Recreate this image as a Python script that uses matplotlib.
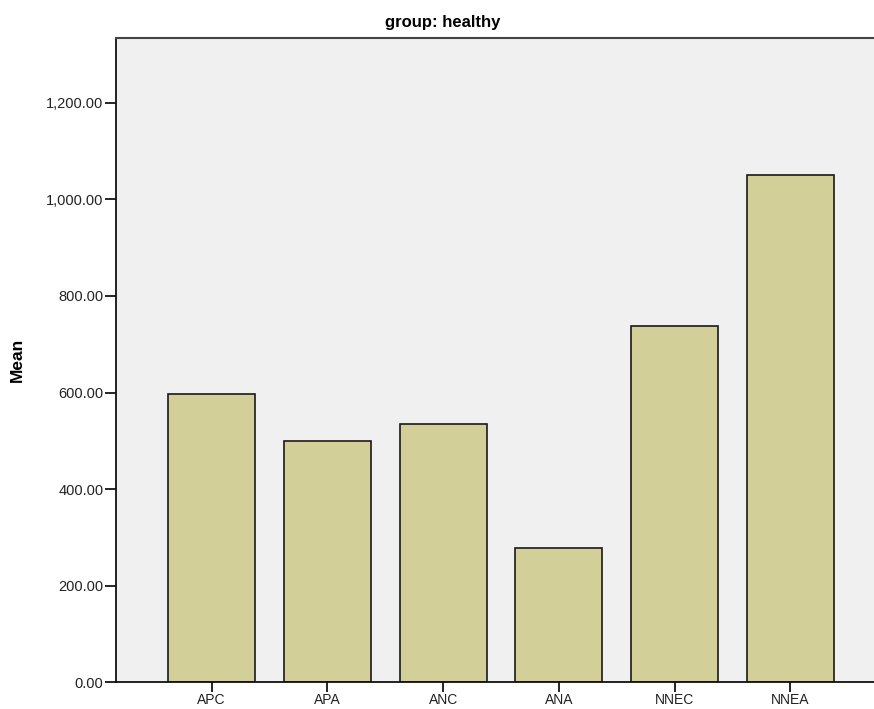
import matplotlib
matplotlib.use("Agg")
import matplotlib.pyplot as plt
from matplotlib.ticker import FuncFormatter

plt.rcParams['font.family'] = ['Liberation Sans', 'DejaVu Sans']

categories = ["APC", "APA", "ANC", "ANA", "NNEC", "NNEA"]
means = [596, 500, 534, 279, 738, 1050]
yticks = [0, 200, 400, 600, 800, 1000, 1200]

fig = plt.figure(figsize=(8.74, 7.09), dpi=100)
# axes run off the right edge, like the cropped SPSS output
ax = fig.add_axes([116 / 874, 26.7 / 709, 770 / 874, 644.3 / 709])
ax.set_facecolor("#f0f0f0")

x = range(len(categories))
ax.bar(x, means, width=0.75, color="#d3cf98", edgecolor="#1a1a1a", linewidth=1.2)

ax.set_xlim(-0.825, 5.825)
ax.set_ylim(0, 1334)
ax.set_xticks(list(x))
ax.set_xticklabels(categories, fontsize=10, color="#222222")
ax.set_yticks(yticks)
ax.yaxis.set_major_formatter(FuncFormatter(lambda v, p: f"{v:,.2f}"))
ax.tick_params(axis="y", length=8, width=1.2, labelsize=10.5, pad=1, labelcolor="#222222")
ax.tick_params(axis="x", length=7, width=1.2, pad=1)

for s in ["left", "bottom"]:
    ax.spines[s].set_linewidth(1.3)
    ax.spines[s].set_color("#111111")
ax.spines["top"].set_linewidth(1.5)
ax.spines["top"].set_color("#444444")
ax.spines["right"].set_visible(False)

ax.set_ylabel("Mean", fontsize=12.5, fontweight="bold", labelpad=15)
fig.text(443 / 874, 1 - 23 / 709, "group: healthy", ha="center", va="center",
         fontsize=12, fontweight="bold")

fig.savefig("out.png", dpi=100)
